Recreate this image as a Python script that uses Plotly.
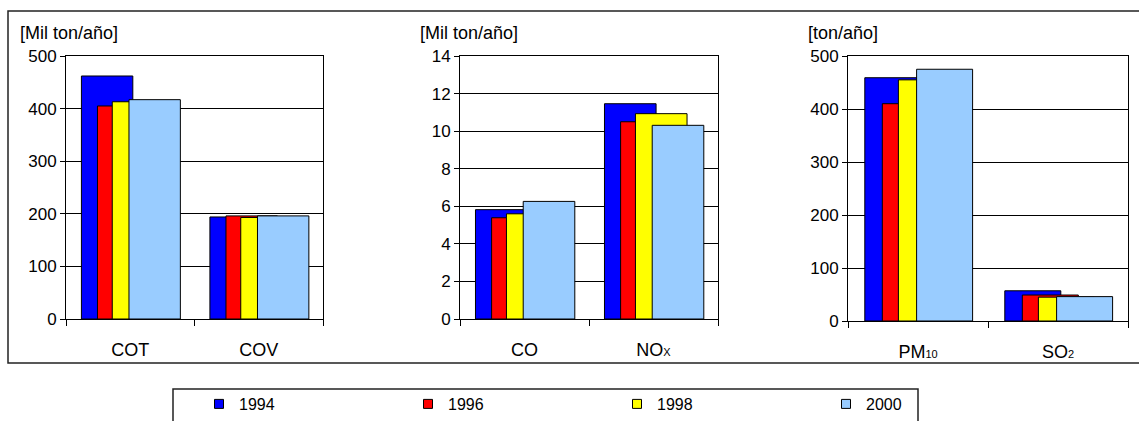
import plotly.graph_objects as go

W, H = 1139, 421

years = ["1994", "1996", "1998", "2000"]
colors = ["#0000FF", "#FF0000", "#FFFF00", "#99CCFF"]

# Panel 1: [Mil ton/año]
cats1 = ["COT", "COV"]
p1_1994 = [462, 194]
p1_1996 = [405, 196]
p1_1998 = [413, 193]
p1_2000 = [417, 196]

# Panel 2: [Mil ton/año]
cats2 = ["CO", "NO<span style='font-size:11px'>X</span>"]
p2_1994 = [5.82, 11.46]
p2_1996 = [5.39, 10.50]
p2_1998 = [5.60, 10.93]
p2_2000 = [6.26, 10.31]

# Panel 3: [ton/año]
cats3 = ["PM<span style='font-size:11px'>10</span>", "SO<span style='font-size:11px'>2</span>"]
p3_1994 = [459, 57]
p3_1996 = [410, 49]
p3_1998 = [455, 45]
p3_2000 = [475, 46]

units = ["[Mil ton/año]", "[Mil ton/año]", "[ton/año]"]
yranges = [(0, 500, 100), (0, 14, 2), (0, 500, 100)]

panels = [
    (cats1, [p1_1994, p1_1996, p1_1998, p1_2000]),
    (cats2, [p2_1994, p2_1996, p2_1998, p2_2000]),
    (cats3, [p3_1994, p3_1996, p3_1998, p3_2000]),
]

# pixel geometry of the plot areas (left, right, top, bottom)
boxes = [(66, 323, 56, 319), (460, 718, 56, 319), (848, 1128, 56, 321)]
unit_x = [18, 418, 806]

offsets = [-0.38, -0.255, -0.14, -0.01]
bar_w = 0.4

FONT = "Arial, 'Liberation Sans', sans-serif"

fig = go.Figure()

for i, (cats, series) in enumerate(panels):
    xa = "x" if i == 0 else f"x{i+1}"
    ya = "y" if i == 0 else f"y{i+1}"
    for j, vals in enumerate(series):
        fig.add_trace(go.Bar(
            x=cats, y=vals, width=bar_w, offset=offsets[j],
            marker=dict(color=colors[j], line=dict(color="black", width=1)),
            xaxis=xa, yaxis=ya, showlegend=False, name=years[j],
        ))

# legend entries
for j in range(4):
    fig.add_trace(go.Scatter(
        x=[None], y=[None], mode="markers", name=years[j],
        marker=dict(symbol="square", size=9, color=colors[j],
                    line=dict(color="black", width=1)),
        showlegend=True,
    ))

layout = dict(
    width=W, height=H, autosize=False,
    margin=dict(l=0, r=0, t=0, b=0, pad=0),
    paper_bgcolor="white", plot_bgcolor="white",
    barmode="overlay",
    font=dict(family=FONT, size=17, color="black"),
    showlegend=True,
    legend=dict(orientation="h", x=199 / W, xanchor="left", y=0.0, yanchor="bottom",
                font=dict(size=16), entrywidth=164, entrywidthmode="pixels",
                bgcolor="rgba(0,0,0,0)", borderwidth=0),
)

annotations = []
for i in range(3):
    l, r, t, b = boxes[i]
    sfx = "" if i == 0 else str(i + 1)
    y0, y1, dt = yranges[i]
    layout["xaxis" + sfx] = dict(
        type="category", domain=[l / W, r / W], anchor="y" + sfx, automargin=False,
        range=[-0.5, 1.5], showline=True, mirror=True, linecolor="black", linewidth=1,
        ticks="outside", tickson="boundaries", ticklen=6, tickcolor="black",
        showgrid=False, tickfont=dict(size=18), ticklabelstandoff=14,
    )
    layout["yaxis" + sfx] = dict(
        domain=[1 - b / H, 1 - t / H], anchor="x" + sfx, automargin=False,
        range=[y0, y1], dtick=dt, tick0=0,
        showline=True, mirror=True, linecolor="black", linewidth=1,
        ticks="outside", ticklen=5, tickcolor="black",
        showgrid=True, gridcolor="black", gridwidth=1, zeroline=False,
        tickfont=dict(size=17),
    )
    annotations.append(dict(
        text=units[i], x=unit_x[i] / W, y=1 - 33 / H, xref="paper", yref="paper",
        xanchor="left", yanchor="middle", showarrow=False, font=dict(size=18),
    ))

layout["annotations"] = annotations
layout["shapes"] = [
    dict(type="rect", xref="paper", yref="paper", x0=8 / W, x1=1.02,
         y0=1 - 363 / H, y1=1 - 11 / H, line=dict(color="#222", width=1.5)),
    dict(type="rect", xref="paper", yref="paper", x0=173 / W, x1=918 / W,
         y0=1 - 389 / H, y1=-0.1, line=dict(color="#222", width=1.5)),
]

fig.update_layout(**layout)
fig.write_html("out.html", config={"displayModeBar": False},
               post_script="document.body.style.margin='0';document.body.style.overflow='hidden';")
